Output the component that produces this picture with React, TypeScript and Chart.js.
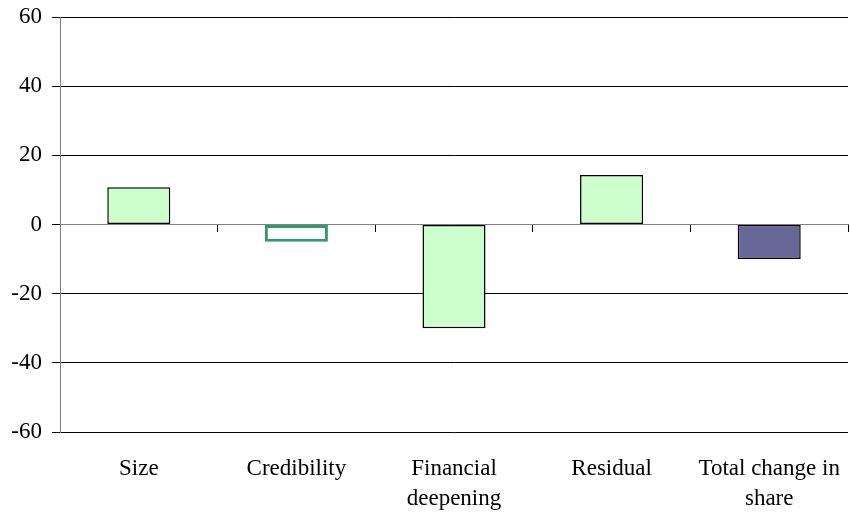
import React, { useEffect, useRef } from "react";
import { Chart, registerables } from "chart.js";

Chart.register(...registerables);

const categories: (string | string[])[] = [
  "Size",
  "Credibility",
  ["Financial", "deepening"],
  "Residual",
  ["Total change in", "share"],
];
const values: number[] = [10.8, -5, -30, 14.3, -10];
const yTicks = { min: -60, max: 60, step: 20 };

export default function App() {
  const ref = useRef<HTMLCanvasElement | null>(null);

  useEffect(() => {
    document.body.style.margin = "0";
    const canvas = ref.current;
    if (!canvas) return;
    const family = "'Liberation Serif', 'Times New Roman', serif";
    const chart = new Chart(canvas, {
      type: "bar",
      data: {
        labels: categories,
        datasets: [
          {
            data: values,
            backgroundColor: ["#CCFFCC", "#FFFFFF", "#CCFFCC", "#CCFFCC", "#666699"],
            borderColor: ["#000000", "#339966", "#000000", "#000000", "#000000"],
            borderWidth: [1.5, 3, 1.5, 1.5, 1.5],
            borderSkipped: false,
            barPercentage: 0.4,
            categoryPercentage: 1,
          },
        ],
      },
      options: {
        responsive: false,
        animation: false,
        layout: { padding: { top: 17, right: 2, bottom: 0, left: 0 } },
        plugins: { legend: { display: false }, tooltip: { enabled: false } },
        scales: {
          x: {
            type: "category",
            offset: true,
            grid: { display: false },
            border: { display: false },
            ticks: {
              color: "#000",
              font: { family, size: 23, lineHeight: 1.3 },
              padding: 14,
              maxRotation: 0,
              autoSkip: false,
            },
            afterFit: (s: any) => {
              s.height = 84;
              s.paddingLeft = 0;
              s.paddingRight = 0;
            },
          },
          x2: {
            type: "category",
            position: { y: 0 } as any,
            offset: true,
            grid: {
              offset: true,
              drawOnChartArea: false,
              drawTicks: true,
              tickLength: 7,
              color: "#000",
            },
            border: { display: true, color: "#808080", width: 1 },
            ticks: { display: false },
          },
          y: {
            min: yTicks.min,
            max: yTicks.max,
            ticks: { stepSize: yTicks.step, color: "#000", font: { family, size: 23, lineHeight: 1 }, padding: 10 },
            grid: {
              color: (ctx: any) => (ctx.tick && ctx.tick.value === 0 ? "#808080" : "#000"),
              tickColor: "#000",
              tickLength: 8,
            },
            border: { display: true, color: "#808080", width: 1 },
            afterFit: (s: any) => {
              s.width = 60;
              s.paddingTop = 0;
              s.paddingBottom = 0;
            },
          },
        },
      },
    });
    return () => chart.destroy();
  }, []);

  return (
    <canvas
      ref={ref}
      width={850}
      height={516}
      style={{ position: "absolute", left: 0, top: 0, width: 850, height: 516 }}
    />
  );
}
